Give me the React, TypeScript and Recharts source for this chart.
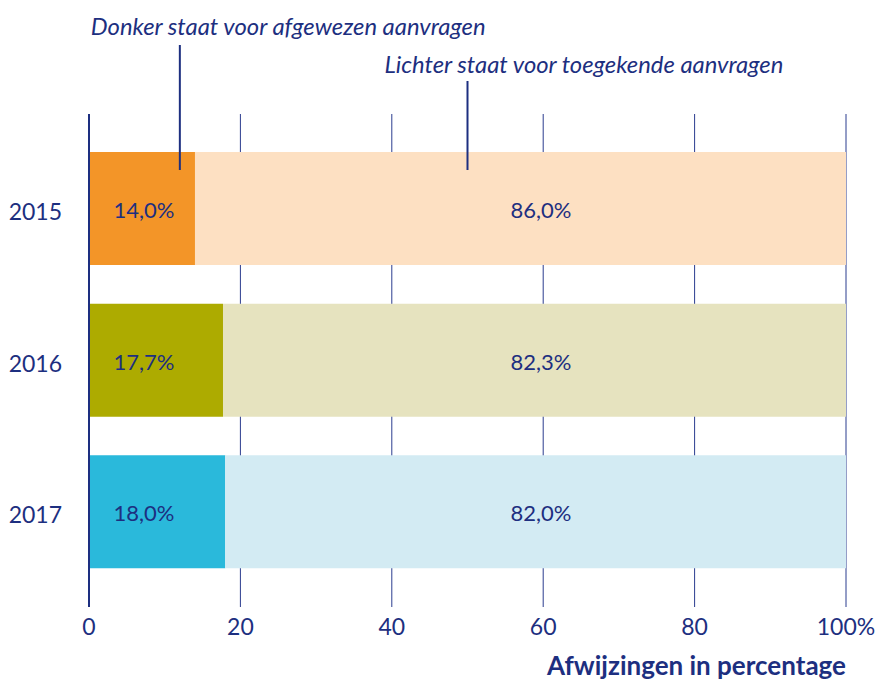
import { BarChart, Bar, XAxis, YAxis, CartesianGrid, Cell, LabelList, ReferenceLine } from 'recharts';

// jaartallen en aandelen (in %)
const years = ['2015', '2016', '2017'];
const afgewezen = [14.0, 17.7, 18.0];
const toegekend = [86.0, 82.3, 82.0];
const xTicks = [0, 20, 40, 60, 80, 100];

const darkColors = ['#f39528', '#adab00', '#2ab9db'];
const lightColors = ['#fde0c2', '#e6e3bf', '#d3ebf3'];

const NAVY = '#1d2f80';
const FONT = 'Lato, "Open Sans", sans-serif';

// annotaties boven de grafiek (tekst + waarde op de x-as waar het lijntje staat)
const noteTexts = ['Donker staat voor afgewezen aanvragen', 'Lichter staat voor toegekende aanvragen'];
const noteValues = [12, 50];

const data = years.map((year, i) => ({
  year,
  afgewezen: afgewezen[i],
  toegekend: toegekend[i],
}));

const fmt = (v: number) => v.toFixed(1).replace('.', ',') + '%';

const LIGHT_LABEL_AT = 59.7;

function DarkLabel(props: any) {
  const { x, y, height, value } = props;
  return (
    <text x={x + 55} y={y + height / 2 + 1} textAnchor="middle" dominantBaseline="central"
      fill={NAVY} fontSize={22} fontFamily={FONT}>
      {fmt(value)}
    </text>
  );
}

function LightLabel(props: any) {
  const { x, y, width, height, value } = props;
  const perUnit = width / value;
  const cx = x + width - (100 - LIGHT_LABEL_AT) * perUnit;
  return (
    <text x={cx} y={y + height / 2 + 1} textAnchor="middle" dominantBaseline="central"
      fill={NAVY} fontSize={22} fontFamily={FONT}>
      {fmt(value)}
    </text>
  );
}

function noteShape(i: number) {
  // lijntje van onder de tekst tot in de balk van 2015
  const tops = [69, 33];
  const textDx = [-89, -83];
  const textDy = [-79, -41];
  return (props: any) => {
    const top = Math.min(props.y1, props.y2);
    const x = props.x1;
    return (
      <g>
        <text x={x + textDx[i]} y={top + textDy[i]} fill={NAVY} fontSize={23.8}
          fontStyle="italic" fontFamily={FONT}>
          {noteTexts[i]}
        </text>
        <line x1={x} x2={x} y1={top - tops[i]} y2={top + 56} stroke={NAVY} strokeWidth={2} />
      </g>
    );
  };
}

export default function App() {
  return (
    <div style={{ position: 'absolute', left: 0, top: 0, width: 878, height: 681, background: '#fff' }}>
      <BarChart
        width={878}
        height={681}
        data={data}
        layout="vertical"
        margin={{ top: 114, right: 32, bottom: 0, left: 0 }}
      >
        <CartesianGrid horizontal={false} stroke="#2b3c8f" strokeWidth={1} />
        <XAxis
          type="number"
          domain={[0, 100]}
          ticks={xTicks}
          tickFormatter={(t) => (t === 100 ? '100%' : String(t))}
          axisLine={false}
          tickLine={false}
          tickSize={0}
          tickMargin={12}
          height={74}
          tick={{ fill: NAVY, fontSize: 23, fontFamily: FONT }}
          label={({ viewBox }: any) => (
            <text x={viewBox.x + viewBox.width} y={viewBox.y + 68} textAnchor="end"
              fill={NAVY} fontSize={26} fontWeight="bold" fontFamily={FONT}>
              Afwijzingen in percentage
            </text>
          )}
        />
        <YAxis
          type="category"
          dataKey="year"
          width={89}
          padding={{ top: 19, bottom: 19 }}
          axisLine={false}
          tickLine={false}
          tickSize={0}
          tickMargin={27}
          tick={{ fill: NAVY, fontSize: 23, fontFamily: FONT, dy: 3 }}
        />
        <Bar dataKey="afgewezen" stackId="a" barSize={113} isAnimationActive={false}>
          {data.map((d, i) => (
            <Cell key={d.year} fill={darkColors[i]} />
          ))}
          <LabelList dataKey="afgewezen" content={DarkLabel} />
        </Bar>
        <Bar dataKey="toegekend" stackId="a" barSize={113} isAnimationActive={false}>
          {data.map((d, i) => (
            <Cell key={d.year} fill={lightColors[i]} />
          ))}
          <LabelList dataKey="toegekend" content={LightLabel} />
        </Bar>
        <ReferenceLine x={0} stroke="#1d2f80" strokeWidth={2} />
        {noteValues.map((v, i) => (
          <ReferenceLine key={i} x={v} ifOverflow="visible" shape={noteShape(i)} />
        ))}
      </BarChart>
    </div>
  );
}
